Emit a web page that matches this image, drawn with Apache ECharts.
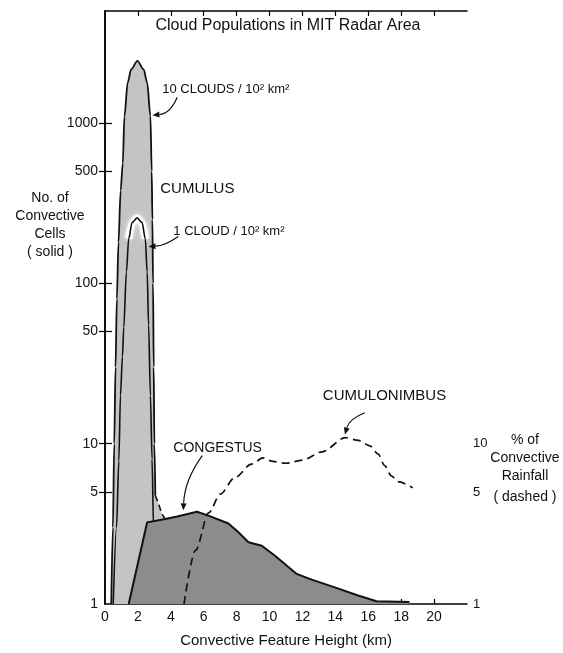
<!DOCTYPE html>
<html>
<head>
<meta charset="utf-8">
<script src="https://cdn.jsdelivr.net/npm/echarts@6/dist/echarts.min.js"></script>
<style>
  html, body { margin: 0; padding: 0; background: #fff; }
  #chart { width: 563px; height: 653px; }
</style>
</head>
<body>
<div id="chart"></div>
<script>
// Cumulus envelope, 10 clouds per 100 km² (height km, number of cells)
const outerKm    = [0.38, 0.48, 0.56, 0.64, 0.72, 0.82, 0.95, 1.08, 1.18, 1.38, 1.59, 1.97, 2.35, 2.56, 2.76, 2.84, 2.88, 2.92, 2.96, 3.0, 3.06];
const outerCount = [1, 3, 10, 30, 80, 180, 380, 560, 1100, 1790, 2160, 2440, 2160, 1790, 1110, 500, 250, 100, 30, 10, 4.75];
// Dashed join between the cumulus envelope and the congestus curve
const tailKm    = [3.06, 3.26, 3.47, 3.67];
const tailCount = [4.75, 4.2, 3.64, 3.39];
// Cumulus envelope, 1 cloud per 100 km²
const innerKm    = [0.5, 0.7, 0.84, 0.94, 1.06, 1.14, 1.3, 1.44, 1.65, 1.95, 2.25, 2.45, 2.56, 2.65, 2.76, 2.86, 2.95, 3.0];
const innerCount = [1, 3, 7.8, 20, 35, 53, 118, 190, 240, 256, 240, 190, 118, 55, 20, 8, 3, 1.5];
// Congestus population
const congestusKm    = [1.44, 2.56, 3.67, 4.38, 5.59, 6.29, 7.5, 8.11, 8.72, 9.53, 10.33, 11.65, 12.56, 13.97, 15.38, 16.5, 18.5];
const congestusCount = [1, 3.23, 3.39, 3.51, 3.76, 3.56, 3.18, 2.8, 2.43, 2.31, 2.0, 1.54, 1.42, 1.27, 1.13, 1.04, 1.03];
// Percent of convective rainfall (dashed)
const rainKm  = [4.8, 5.5, 6.3, 7.0, 7.9, 8.9, 9.6, 10.2, 11.0, 12.0, 13.2, 14.6, 15.4, 16.1, 16.6, 17.0, 17.4, 17.8, 18.7];
const rainPct = [1, 2.16, 3.7, 4.84, 6.15, 7.45, 8.15, 7.75, 7.55, 7.9, 8.9, 10.9, 10.5, 9.7, 8.6, 7.3, 6.3, 5.8, 5.3];

// Axis ticks
const xTicks = [0, 2, 4, 6, 8, 10, 12, 14, 16, 18, 20];
const leftTicks = [1, 5, 10, 50, 100, 500, 1000];
const rightTicks = [1, 5, 10];

const FONT = 'Liberation Sans';
const INK = '#111';
const pairs = (xs, ys) => xs.map((x, i) => [x, ys[i]]);

const outerData = pairs(outerKm, outerCount);
const tailData = pairs(tailKm, tailCount);
const innerData = pairs(innerKm, innerCount);
const haloData = innerData.filter(p => p[1] >= 120);
const congestusData = pairs(congestusKm, congestusCount);
const rainData = pairs(rainKm, rainPct);

const chart = echarts.init(document.getElementById('chart'), null, { renderer: 'canvas' });

const frameLine = { show: true, lineStyle: { color: '#000', width: 1.5 } };
const tickLine = { color: '#000', width: 1.2 };
const intFormat = v => String(Math.round(v));

chart.setOption({
  animation: false,
  backgroundColor: '#fff',
  grid: { left: 105, right: 96, top: 11, bottom: 46, containLabel: false },
  xAxis: [
    {
      type: 'value', min: 0, max: 22, position: 'bottom',
      axisLine: frameLine,
      axisTick: { show: true, inside: true, length: 5, lineStyle: tickLine, customValues: xTicks.slice(1) },
      axisLabel: { customValues: xTicks, color: INK, fontFamily: FONT, fontSize: 14, margin: 6 },
      splitLine: { show: false },
      name: 'Convective Feature Height (km)', nameLocation: 'middle', nameGap: 29,
      nameTextStyle: { color: INK, fontFamily: FONT, fontSize: 15 }
    },
    {
      type: 'value', min: 0, max: 22, position: 'top',
      axisLine: frameLine,
      axisTick: { show: true, inside: true, length: 5, lineStyle: tickLine, customValues: xTicks.slice(1) },
      axisLabel: { show: false },
      splitLine: { show: false }
    }
  ],
  yAxis: [
    {
      type: 'log', logBase: 10, min: 1, max: 5000, position: 'left',
      axisLine: frameLine,
      axisTick: { show: true, inside: true, length: 7, lineStyle: tickLine, customValues: leftTicks.slice(1) },
      axisLabel: { customValues: leftTicks, color: INK, fontFamily: FONT, fontSize: 14, margin: 7, formatter: intFormat },
      splitLine: { show: false }
    },
    {
      type: 'log', logBase: 10, min: 1, max: 5000, position: 'right',
      axisLine: frameLine,
      axisTick: { show: true, inside: true, length: 6, lineStyle: tickLine, customValues: leftTicks.slice(1) },
      axisLabel: { customValues: rightTicks, color: INK, fontFamily: FONT, fontSize: 13, margin: 6, formatter: intFormat },
      splitLine: { show: false }
    }
  ],
  series: [
    {
      name: 'cumulus fill', type: 'line', data: outerData.concat(tailData.slice(1)),
      showSymbol: false, symbol: 'none', smooth: 0.3, smoothMonotone: 'x', z: 1,
      lineStyle: { width: 0 },
      areaStyle: { color: '#c4c4c4', opacity: 1, origin: 1 },
      silent: true
    },
    {
      name: '10 clouds', type: 'line', data: outerData,
      showSymbol: false, symbol: 'none', smooth: 0.3, smoothMonotone: 'x', z: 2,
      lineStyle: { color: INK, width: 1.8 }, silent: true
    },
    {
      name: 'halo', type: 'line', data: haloData,
      showSymbol: false, symbol: 'none', smooth: 0.3, smoothMonotone: 'x', z: 3,
      lineStyle: { color: '#fff', width: 7, shadowColor: '#fff', shadowBlur: 4 }, silent: true
    },
    {
      name: '1 cloud', type: 'line', data: innerData,
      showSymbol: false, symbol: 'none', smooth: 0.3, smoothMonotone: 'x', z: 4,
      lineStyle: { color: INK, width: 1.6 }, silent: true
    },
    {
      name: 'congestus', type: 'line', data: congestusData,
      showSymbol: false, symbol: 'none', z: 5,
      lineStyle: { color: INK, width: 2 },
      areaStyle: { color: '#8c8c8c', opacity: 1, origin: 1 },
      silent: true
    },
    {
      name: 'join', type: 'line', data: tailData,
      showSymbol: false, symbol: 'none', smooth: 0.3, z: 6,
      lineStyle: { color: INK, width: 1.6, type: [6, 4] }, silent: true
    },
    {
      name: 'rainfall', type: 'line', data: rainData, yAxisIndex: 1,
      showSymbol: false, symbol: 'none', smooth: 0.3, smoothMonotone: 'x', z: 6,
      lineStyle: { color: INK, width: 1.7, type: [8, 5] }, silent: true
    }
  ]
});

// Annotations anchored in chart coordinates (km, count)
function at(km, count) {
  return chart.convertToPixel({ xAxisIndex: 0, yAxisIndex: 0 }, [km, count]);
}
function label(text, km, count, size) {
  const p = at(km, count);
  return {
    type: 'text', x: p[0], y: p[1], silent: true, z: 100,
    style: { text: text, fill: INK, font: size + 'px "' + FONT + '"', textAlign: 'left', textVerticalAlign: 'middle' }
  };
}
function block(lines, x, y, lineGap, size) {
  return lines.map((t, i) => ({
    type: 'text', x: x, y: y + i * lineGap, silent: true,
    style: { text: t, fill: INK, font: size + 'px "' + FONT + '"', textAlign: 'center', textVerticalAlign: 'middle' }
  }));
}
// Curved pointer: quadratic curve with a filled arrow head at the target
function pointer(from, to, curveness) {
  const a = at(from[0], from[1]);
  const b = at(to[0], to[1]);
  const cp = [(a[0] + b[0]) / 2 - (a[1] - b[1]) * curveness, (a[1] + b[1]) / 2 - (b[0] - a[0]) * curveness];
  let ux = b[0] - cp[0], uy = b[1] - cp[1];
  const len = Math.hypot(ux, uy) || 1;
  ux /= len; uy /= len;
  const headLen = 7, headHalf = 3;
  const base = [b[0] - ux * headLen, b[1] - uy * headLen];
  return [
    {
      type: 'bezierCurve', silent: true, z: 100,
      shape: { x1: a[0], y1: a[1], x2: base[0], y2: base[1], cpx1: cp[0], cpy1: cp[1] },
      style: { stroke: INK, lineWidth: 1.2, fill: null }
    },
    {
      type: 'polygon', silent: true, z: 100,
      shape: { points: [b, [base[0] - uy * headHalf, base[1] + ux * headHalf], [base[0] + uy * headHalf, base[1] - ux * headHalf]] },
      style: { fill: INK }
    }
  ];
}

const graphics = [
  {
    type: 'text', x: 288, y: 26, silent: true,
    style: { text: 'Cloud Populations in MIT Radar Area', fill: INK, font: '16px "' + FONT + '"', textAlign: 'center', textVerticalAlign: 'middle' }
  },
  label('10 CLOUDS / 10² km²', 3.48, 1626, 13),
  label('CUMULUS', 3.36, 389, 15),
  label('1 CLOUD / 10² km²', 4.15, 210, 13),
  label('CONGESTUS', 4.15, 9.44, 14),
  label('CUMULONIMBUS', 13.24, 19.9, 15)
]
  .concat(pointer([4.39, 1449], [2.88, 1120], 0.3))
  .concat(pointer([4.45, 196], [2.64, 170], 0.15))
  .concat(pointer([5.91, 8.42], [4.76, 3.84], -0.15))
  .concat(pointer([15.79, 15.6], [14.58, 11.4], -0.25))
  .concat(block(['No. of', 'Convective', 'Cells', '( solid )'], 50, 198, 18, 14))
  .concat(block(['% of', 'Convective', 'Rainfall'], 525, 440, 18, 14))
  .concat(block(['( dashed )'], 525, 497, 18, 14));

chart.setOption({ graphic: graphics });
</script>
</body>
</html>
